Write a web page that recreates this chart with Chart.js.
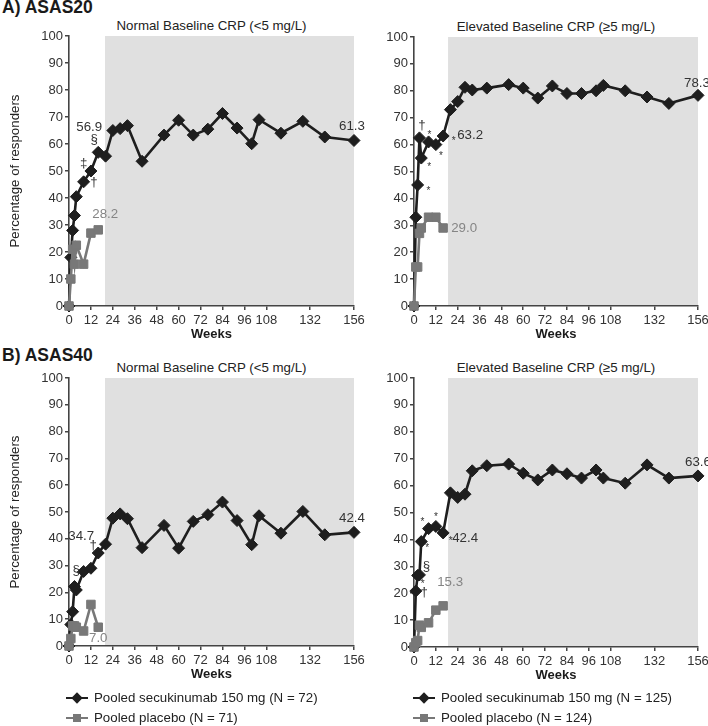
<!DOCTYPE html>
<html>
<head>
<meta charset="utf-8">
<script src="https://cdn.jsdelivr.net/npm/chart.js@4.4.1/dist/chart.umd.min.js"></script>
<style>
  body { margin: 0; background: #fff; }
  #page { position: relative; width: 708px; height: 726px; overflow: hidden; font-family: "Liberation Sans", Arial, sans-serif; color: #222; }
  #page canvas { position: absolute; }
  .panel { position: absolute; font-weight: bold; font-size: 17.5px; line-height: 20px; color: #1a1a1a; }
  .sub { position: absolute; font-size: 13.3px; line-height: 16px; text-align: center; color: #222; }
  .leg-line { position: absolute; height: 2.5px; }
  .leg-mk { position: absolute; width: 8px; height: 8px; }
  .leg-tx { position: absolute; font-size: 13.3px; line-height: 16px; color: #222; white-space: nowrap; }
</style>
</head>
<body>
<div id="page">
  <div class="panel" style="left:2px; top:-3px;">A) ASAS20</div>
  <div class="sub" style="left:69px; width:285px; top:18px;">Normal Baseline CRP (&lt;5 mg/L)</div>
  <div class="sub" style="left:414px; width:284px; top:19px;">Elevated Baseline CRP (≥5 mg/L)</div>

  <div class="panel" style="left:2px; top:345px;">B) ASAS40</div>
  <div class="sub" style="left:69px; width:285px; top:360px;">Normal Baseline CRP (&lt;5 mg/L)</div>
  <div class="sub" style="left:414px; width:284px; top:360px;">Elevated Baseline CRP (≥5 mg/L)</div>

  <canvas id="a20-normal" width="380" height="350" style="left:0; top:0;"></canvas>
  <canvas id="a20-elev" width="366" height="350" style="left:354px; top:0;"></canvas>
  <canvas id="a40-normal" width="380" height="350" style="left:0; top:340px;"></canvas>
  <canvas id="a40-elev" width="366" height="351" style="left:354px; top:340px;"></canvas>

  <div id="legends"></div>
</div>

<script>
// ---- data ----
const weeksSec = [0, 1, 2, 3, 4, 8, 12, 16, 20, 24, 28, 32, 40, 52, 60, 68, 76, 84, 92, 100, 104, 116, 128, 140, 156];
const weeksPbo = [0, 1, 2, 3, 4, 8, 12, 16];
const xTickWeeks = [0, 12, 24, 36, 48, 60, 72, 84, 96, 108, 132, 156];

// ASAS20, normal baseline CRP
const asas20NormalSec = [0, 18, 28, 33.5, 40.5, 46, 50, 56.9, 55.5, 65, 65.7, 66.8, 53.6, 63.3, 68.8, 63.3, 65.5, 71.3, 65.9, 60.1, 69, 64, 68.4, 62.6, 61.3];
const asas20NormalPbo = [0, 10, 21, 15.5, 22.5, 15.5, 27, 28.2];
// ASAS20, elevated baseline CRP
const asas20ElevSec = [0, 33, 45, 62.5, 55, 61, 60, 63.2, 73, 76, 81.3, 80.3, 81, 82.3, 81, 77.3, 81.8, 79, 79, 80, 82, 80, 77.7, 75.3, 78.3];
const asas20ElevPbo = [0, 14.5, 14.5, 27, 29, 33, 33, 29.0];
// ASAS40, normal baseline CRP
const asas40NormalSec = [0, 8, 12.8, 22.2, 20.9, 27.8, 29, 34.7, 38, 47.7, 49.3, 47.5, 36.7, 45, 36.5, 46.5, 49, 53.7, 46.8, 37.8, 48.6, 42.1, 50.2, 41.5, 42.4];
const asas40NormalPbo = [0, 2.8, 7.5, 7.5, 7, 5.6, 15.5, 7.0];
// ASAS40, elevated baseline CRP
const asas40ElevSec = [0, 20.8, 26.6, 26.8, 39.2, 44, 44.8, 42.4, 57.3, 55.6, 56.8, 65.5, 67.4, 68, 64.6, 62.1, 65.8, 64.4, 62.8, 65.8, 62.8, 60.9, 67.7, 62.8, 63.6];
const asas40ElevPbo = [0, 1.6, 2.4, 8.1, 7.3, 9, 13.7, 15.3];

const legendSecLabels = ['Pooled secukinumab 150 mg (N = 72)', 'Pooled secukinumab 150 mg (N = 125)'];
const legendPboLabels = ['Pooled placebo (N = 71)', 'Pooled placebo (N = 124)'];

// ---- styles ----
const FONT = '"Liberation Sans", Arial, sans-serif';
const SEC_COLOR = '#1e1e1e';
const PBO_COLOR = '#787878';
const AXIS_COLOR = '#444';
const SHADE_COLOR = '#e0e0e0';

Chart.defaults.font.family = FONT;
Chart.defaults.font.size = 13;
Chart.defaults.color = '#333';

/**
 * Gray background box for the open-label extension period
 */
const shadePlugin = {
  id: 'shade',
  beforeDraw(chart, args, opts) {
    const { ctx, chartArea, scales } = chart;
    const x0 = scales.x.getPixelForValue(opts.from);
    ctx.save();
    ctx.fillStyle = SHADE_COLOR;
    ctx.fillRect(x0, chartArea.top, chartArea.right - x0, chartArea.bottom - chartArea.top);
    ctx.restore();
  }
};

/**
 * Value labels and significance symbols next to data points
 */
const notesPlugin = {
  id: 'notes',
  afterDatasetsDraw(chart, args, opts) {
    const { ctx } = chart;
    ctx.save();
    ctx.textAlign = 'center';
    ctx.textBaseline = 'middle';
    (opts.items || []).forEach(n => {
      const dsIndex = n.ds === 'pbo' ? 0 : 1;
      const pt = chart.getDatasetMeta(dsIndex).data[n.i];
      if (!pt) return;
      const isStar = n.text === '*';
      ctx.font = (isStar ? 10 : 13.3) + 'px ' + FONT;
      ctx.fillStyle = n.ds === 'pbo' && n.text.match(/\d/) ? '#858585' : '#333';
      ctx.fillText(n.text, pt.x + n.dx, pt.y + n.dy + (isStar ? 3 : 0));
    });
    ctx.restore();
  }
};

function toPoints(weeks, values) {
  return weeks.map((w, i) => ({ x: w, y: values[i] }));
}

/**
 * Build one panel
 */
function createPanel(canvasId, cfg) {
  const ctx = document.getElementById(canvasId).getContext('2d');
  return new Chart(ctx, {
    type: 'line',
    data: {
      datasets: [{
        label: 'Pooled placebo',
        data: toPoints(weeksPbo, cfg.pbo),
        borderColor: PBO_COLOR,
        backgroundColor: PBO_COLOR,
        borderWidth: 2.6,
        pointStyle: 'rect',
        pointRadius: 6,
        pointBorderWidth: 1,
        tension: 0,
        clip: false
      }, {
        label: 'Pooled secukinumab 150 mg',
        data: toPoints(weeksSec, cfg.sec),
        borderColor: SEC_COLOR,
        backgroundColor: SEC_COLOR,
        borderWidth: 2.6,
        pointStyle: 'rectRot',
        pointRadius: 6,
        pointBorderWidth: 1,
        tension: 0,
        clip: false
      }]
    },
    options: {
      responsive: false,
      animation: false,
      events: [],
      layout: { padding: cfg.padding },
      plugins: {
        legend: { display: false },
        tooltip: { enabled: false },
        shade: { from: cfg.shadeFrom },
        notes: { items: cfg.notes }
      },
      scales: {
        x: {
          type: 'linear',
          min: 0,
          max: 156,
          afterBuildTicks: (scale) => { scale.ticks = xTickWeeks.map(v => ({ value: v })); },
          afterFit: (scale) => { scale.height = 40; },
          ticks: { autoSkip: false, maxRotation: 0, padding: 3, color: '#333' },
          grid: { display: true, drawOnChartArea: false, drawTicks: true, tickLength: 4, color: AXIS_COLOR, lineWidth: 1.5 },
          border: { display: true, color: AXIS_COLOR, width: 1.6 },
          title: { display: true, text: 'Weeks', color: '#1a1a1a', font: { weight: 'bold', size: 13 }, padding: { top: 0, bottom: 4 } }
        },
        y: {
          min: 0,
          max: 100,
          afterFit: (scale) => { scale.width = cfg.yWidth; },
          ticks: { stepSize: 10, padding: 2, color: '#333' },
          grid: { display: true, drawOnChartArea: false, drawTicks: true, tickLength: 4, color: AXIS_COLOR, lineWidth: 1.5 },
          border: { display: true, color: AXIS_COLOR, width: 1.6 },
          title: { display: cfg.yTitle, text: 'Percentage of responders', color: '#222', font: { size: 13.3 }, padding: { top: 7, bottom: 0 } }
        }
      }
    },
    plugins: [shadePlugin, notesPlugin]
  });
}

createPanel('a20-normal', {
  sec: asas20NormalSec, pbo: asas20NormalPbo, shadeFrom: 19.7, yWidth: 69, yTitle: true,
  padding: { left: 0, top: 36, right: 26, bottom: 4 },
  notes: [
    { ds: 'sec', i: 7, text: '56.9', dx: -9, dy: -25 },
    { ds: 'sec', i: 7, text: '§', dx: -4, dy: -13 },
    { ds: 'sec', i: 5, text: '‡', dx: 0, dy: -18 },
    { ds: 'sec', i: 6, text: '†', dx: 3, dy: 11 },
    { ds: 'pbo', i: 7, text: '28.2', dx: 7, dy: -16 },
    { ds: 'sec', i: 24, text: '61.3', dx: -2, dy: -14 }
  ]
});

createPanel('a20-elev', {
  sec: asas20ElevSec, pbo: asas20ElevPbo, shadeFrom: 18.7, yWidth: 60, yTitle: false,
  padding: { left: 0, top: 37, right: 22, bottom: 4 },
  notes: [
    { ds: 'sec', i: 3, text: '†', dx: 2.5, dy: -13 },
    { ds: 'sec', i: 5, text: '*', dx: 1, dy: -10 },
    { ds: 'sec', i: 4, text: '*', dx: 8, dy: 6 },
    { ds: 'sec', i: 6, text: '*', dx: 5, dy: 9 },
    { ds: 'sec', i: 7, text: '*', dx: 10.5, dy: 2 },
    { ds: 'sec', i: 7, text: '63.2', dx: 27, dy: -1 },
    { ds: 'sec', i: 2, text: '*', dx: 10.7, dy: 3.5 },
    { ds: 'pbo', i: 7, text: '29.0', dx: 21, dy: 0 },
    { ds: 'sec', i: 24, text: '78.3', dx: -1, dy: -12 }
  ]
});

createPanel('a40-normal', {
  sec: asas40NormalSec, pbo: asas40NormalPbo, shadeFrom: 19.7, yWidth: 69, yTitle: true,
  padding: { left: 0, top: 38, right: 26, bottom: 4 },
  notes: [
    { ds: 'sec', i: 7, text: '34.7', dx: -17, dy: -17 },
    { ds: 'sec', i: 7, text: '†', dx: -5, dy: -8 },
    { ds: 'sec', i: 5, text: '§', dx: -7.5, dy: -1.5 },
    { ds: 'pbo', i: 7, text: '7.0', dx: 0, dy: 11 },
    { ds: 'sec', i: 24, text: '42.4', dx: -2, dy: -14 }
  ]
});

createPanel('a40-elev', {
  sec: asas40ElevSec, pbo: asas40ElevPbo, shadeFrom: 18.7, yWidth: 60, yTitle: false,
  padding: { left: 0, top: 38, right: 22, bottom: 4 },
  notes: [
    { ds: 'sec', i: 5, text: '*', dx: -6, dy: -9 },
    { ds: 'sec', i: 6, text: '*', dx: 0, dy: -12 },
    { ds: 'sec', i: 7, text: '*', dx: 7.5, dy: 5 },
    { ds: 'sec', i: 7, text: '42.4', dx: 22, dy: 5 },
    { ds: 'sec', i: 4, text: '*', dx: 6, dy: 3.5 },
    { ds: 'sec', i: 3, text: '§', dx: 7, dy: -8.5 },
    { ds: 'sec', i: 2, text: '*', dx: 5, dy: 6 },
    { ds: 'sec', i: 1, text: '†', dx: 8.5, dy: 1 },
    { ds: 'pbo', i: 7, text: '15.3', dx: 7, dy: -23.5 },
    { ds: 'sec', i: 24, text: '63.6', dx: 0, dy: -14 }
  ]
});

/**
 * Legend rows under the bottom panels (line + marker + label)
 */
function addLegend(left, labelSec, labelPbo) {
  const host = document.getElementById('legends');
  [[labelSec, SEC_COLOR, 'dia', 698], [labelPbo, PBO_COLOR, 'sq', 718]].forEach(([text, color, shape, cy]) => {
    const line = document.createElement('div');
    line.className = 'leg-line';
    line.style.cssText = `left:${left}px; top:${cy - 1.25}px; width:22px; background:${color};`;
    const mk = document.createElement('div');
    mk.className = 'leg-mk';
    mk.style.cssText = `left:${left + 7}px; top:${cy - 4}px; background:${color};` + (shape === 'dia' ? 'transform:rotate(45deg);' : '');
    const tx = document.createElement('div');
    tx.className = 'leg-tx';
    tx.style.cssText = `left:${left + 28}px; top:${cy - 8}px;`;
    tx.textContent = text;
    host.append(line, mk, tx);
  });
}

addLegend(66, legendSecLabels[0], legendPboLabels[0]);
addLegend(413, legendSecLabels[1], legendPboLabels[1]);
</script>
</body>
</html>
